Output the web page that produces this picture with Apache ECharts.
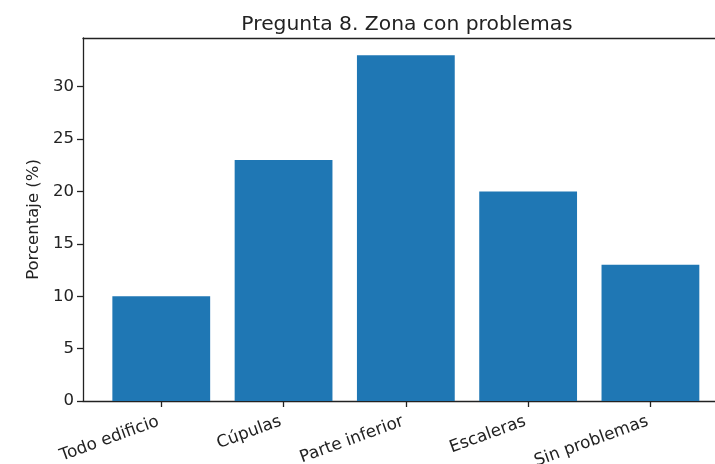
<!DOCTYPE html>
<html>
<head>
<meta charset="utf-8">
<script src="https://cdn.jsdelivr.net/npm/echarts@6/dist/echarts.min.js"></script>
<style>html,body{margin:0;padding:0;background:#fff}#c{width:715px;height:464px}</style>
</head>
<body>
<div id="c"></div>
<script>
const categories = ["Todo edificio", "Cúpulas", "Parte inferior", "Escaleras", "Sin problemas"];
const values = [10, 23, 33, 20, 13];
const yTicks = [0, 5, 10, 15, 20, 25, 30];
const xTicks = [0, 1, 2, 3, 4];
const titleText = "Pregunta 8. Zona con problemas";
const yName = "Porcentaje (%)";

const font = "DejaVu Sans";
const ink = '#222';
const xMin = -0.64, xMax = 4.528;
const chart = echarts.init(document.getElementById('c'), null, {renderer: 'canvas'});
chart.setOption({
  animation: false,
  backgroundColor: '#fff',
  title: {
    text: titleText, left: 402, top: 10, textAlign: 'center',
    textStyle: {fontFamily: font, fontSize: 20.3, fontWeight: 'normal', color: ink}
  },
  grid: {left: 83, top: 38, right: 0, bottom: 63, containLabel: false, outerBoundsMode: 'none'},
  xAxis: [{
    type: 'value', min: xMin, max: xMax, position: 'bottom',
    splitLine: {show: false},
    axisLine: {show: true, onZero: false, lineStyle: {color: ink, width: 1.3}},
    axisTick: {show: true, customValues: xTicks, length: 6, lineStyle: {color: ink, width: 1.3}},
    axisLabel: {
      customValues: xTicks, rotate: 20, margin: 19, padding: [0, 3, 0, 0],
      formatter: v => categories[Math.round(v)] || '',
      fontFamily: font, fontSize: 16.8, color: ink
    }
  }, {
    type: 'value', min: xMin, max: xMax, position: 'top',
    splitLine: {show: false},
    axisLine: {show: true, onZero: false, lineStyle: {color: ink, width: 1.3}},
    axisTick: {show: false}, axisLabel: {show: false}
  }],
  yAxis: {
    type: 'value', min: 0, max: 34.65,
    name: yName, nameLocation: 'middle', nameGap: 41,
    nameTextStyle: {fontFamily: font, fontSize: 16.5, color: ink},
    splitLine: {show: false},
    axisLine: {show: true, onZero: false, lineStyle: {color: ink, width: 1.3}},
    axisTick: {show: true, customValues: yTicks, length: 6, lineStyle: {color: ink, width: 1.3}},
    axisLabel: {customValues: yTicks, margin: 9, fontFamily: font, fontSize: 16.5, color: ink}
  },
  series: [{
    type: 'bar',
    xAxisIndex: 0,
    data: values.map((v, i) => [xTicks[i], v]),
    barWidth: 97.8,
    itemStyle: {color: '#1f77b4'}
  }]
});
</script>
</body>
</html>
